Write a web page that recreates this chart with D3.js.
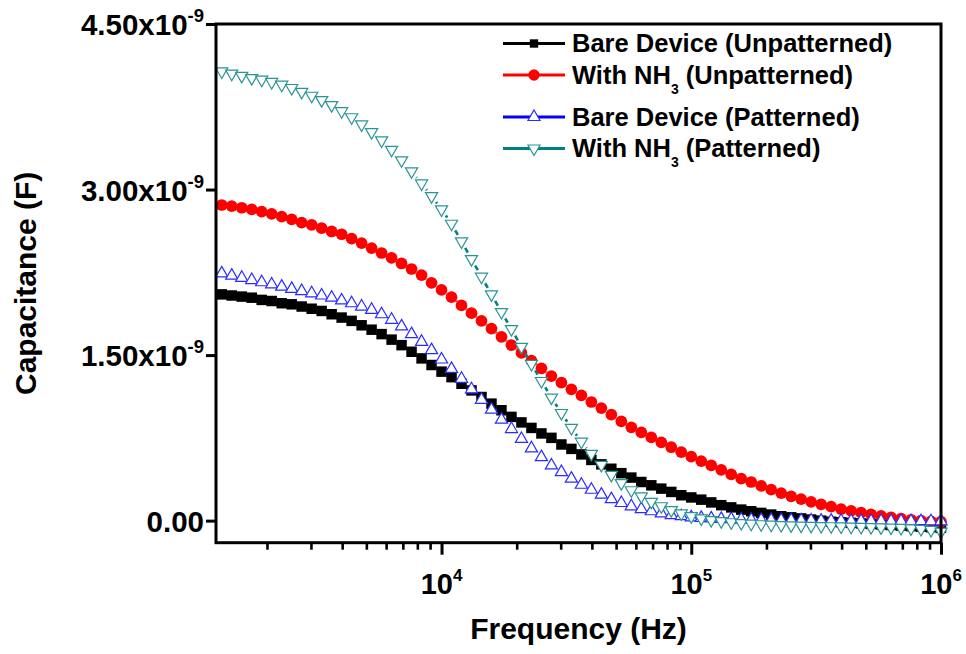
<!DOCTYPE html>
<html><head><meta charset="utf-8">
<script src="https://cdn.jsdelivr.net/npm/d3@7"></script>
<style>
body{margin:0;background:#fff}
text{font-family:"Liberation Sans",Arial,Helvetica,sans-serif;font-weight:bold;fill:#000}
</style>
</head><body>
<svg id="chart" width="966" height="654"></svg>
<script>
// ---- data (capacitance values in units of 1e-9 F) ----
const freqHz = [1318,1445,1585,1738,1905,2089,2291,2512,2754,3020,
  3311,3631,3981,4365,4786,5248,5754,6310,6918,7586,
  8318,9120,10000,10965,12023,13183,14454,15849,17378,19055,
  20893,22909,25119,27542,30200,33113,36308,39811,43652,47863,
  52481,57544,63096,69183,75858,83176,91201,100000,109648,120226,
  131826,144544,158489,173780,190546,208930,229087,251189,275423,301995,
  331131,363078,398107,436516,478630,524807,575440,630957,691831,758578,
  831764,912011,1000000];

const bareUnpatterned = [2.05,2.04,2.03,2.02,2.00,1.99,1.97,1.96,1.94,1.92,
  1.90,1.87,1.84,1.81,1.77,1.73,1.69,1.64,1.59,1.53,
  1.47,1.41,1.35,1.30,1.24,1.18,1.12,1.06,1.00,0.94,
  0.89,0.84,0.79,0.75,0.69,0.65,0.60,0.55,0.51,0.47,
  0.43,0.39,0.35,0.32,0.29,0.26,0.23,0.21,0.19,0.165,
  0.14,0.12,0.10,0.085,0.07,0.055,0.04,0.03,0.02,0.01,
  0.00,-0.01,-0.015,-0.02,-0.025,-0.03,-0.035,-0.04,-0.045,-0.05,
  -0.055,-0.06,-0.065];

const nh3Unpatterned = [2.86,2.85,2.835,2.82,2.80,2.78,2.755,2.73,2.70,2.68,
  2.65,2.62,2.595,2.555,2.515,2.47,2.425,2.38,2.33,2.28,
  2.225,2.155,2.09,2.025,1.95,1.88,1.81,1.74,1.665,1.59,
  1.52,1.45,1.38,1.31,1.25,1.19,1.135,1.075,1.02,0.96,
  0.90,0.845,0.80,0.755,0.71,0.665,0.62,0.58,0.54,0.50,
  0.46,0.42,0.38,0.35,0.315,0.28,0.25,0.22,0.195,0.17,
  0.148,0.126,0.105,0.088,0.072,0.057,0.043,0.03,0.018,0.008,
  0.0,-0.006,-0.01];

const barePatterned = [2.24,2.22,2.20,2.18,2.16,2.14,2.12,2.10,2.08,2.06,
  2.04,2.02,1.995,1.97,1.94,1.91,1.87,1.82,1.76,1.69,
  1.62,1.545,1.46,1.375,1.285,1.19,1.095,1.005,0.915,0.83,
  0.74,0.655,0.575,0.50,0.44,0.38,0.325,0.28,0.235,0.195,
  0.16,0.13,0.105,0.085,0.065,0.05,0.04,0.03,0.025,0.02,
  0.016,0.013,0.01,0.008,0.006,0.005,0.004,0.003,0.002,0.001,
  0.0,0.0,-0.001,-0.002,-0.002,-0.003,-0.003,-0.004,-0.004,-0.005,
  -0.005,-0.006,-0.006];

const nh3Patterned = [4.07,4.05,4.03,4.01,3.995,3.975,3.95,3.92,3.885,3.85,
  3.81,3.765,3.71,3.655,3.59,3.52,3.445,3.36,3.265,3.165,
  3.055,2.94,2.82,2.69,2.53,2.37,2.21,2.05,1.89,1.735,
  1.575,1.42,1.265,1.115,0.975,0.84,0.715,0.605,0.505,0.415,
  0.34,0.275,0.22,0.17,0.13,0.095,0.065,0.04,0.02,0.005,
  -0.005,-0.015,-0.022,-0.028,-0.033,-0.037,-0.04,-0.043,-0.045,-0.047,
  -0.049,-0.051,-0.053,-0.055,-0.057,-0.059,-0.061,-0.063,-0.066,-0.07,
  -0.076,-0.085,-0.10];

const seriesNames = ["Bare Device (Unpatterned)", "With NH|3| (Unpatterned)",
                     "Bare Device (Patterned)", "With NH|3| (Patterned)"];
const yTickValues = [0, 1.5, 3.0, 4.5];
const yTickMantissa = ["0.00", "1.50x10", "3.00x10", "4.50x10"];
const yTickExponent = ["", "-9", "-9", "-9"];
const xTickValues = [1e4, 1e5, 1e6];
const xTickExponent = ["4", "5", "6"];
const xTitle = "Frequency (Hz)";
const yTitle = "Capacitance (F)";

// ---- layout ----
const L = 216, R = 941, T = 24, B = 542.7;
const svg = d3.select("#chart");
svg.append("rect").attr("width", 966).attr("height", 654).attr("fill", "#fff");

const x = d3.scaleLog().domain([1250, 1e6]).range([L, R]);
const y = d3.scaleLinear().domain([-0.2, 4.5]).range([B, T]);

// minor x ticks
const minorX = x.ticks().filter(d => {
  const e = Math.log10(d); return Math.abs(e - Math.round(e)) > 1e-9;
});

const gx = svg.append("g").attr("transform", `translate(0,${B})`);
gx.call(d3.axisBottom(x).tickValues(minorX).tickSize(7).tickFormat(""))
  .call(g => g.select(".domain").remove())
  .call(g => g.selectAll("line").attr("stroke", "#000").attr("stroke-width", 2.6));
const gx2 = svg.append("g").attr("transform", `translate(0,${B})`);
gx2.call(d3.axisBottom(x).tickValues(xTickValues).tickSize(12).tickFormat(""))
  .call(g => g.select(".domain").remove())
  .call(g => g.selectAll("line").attr("stroke", "#000").attr("stroke-width", 3));

// x tick labels (10^n)
xTickValues.forEach((v, i) => {
  const t = svg.append("text").attr("x", x(v)).attr("y", 594)
    .attr("text-anchor", "middle").attr("font-size", 29);
  t.append("tspan").text("10");
  t.append("tspan").attr("font-size", 17).attr("dy", -13).text(xTickExponent[i]);
});

const gy = svg.append("g").attr("transform", `translate(${L},0)`);
gy.call(d3.axisLeft(y).tickValues(yTickValues).tickSize(10).tickFormat(""))
  .call(g => g.select(".domain").remove())
  .call(g => g.selectAll("line").attr("stroke", "#000").attr("stroke-width", 3));

yTickValues.forEach((v, i) => {
  const t = svg.append("text").attr("x", 204).attr("y", y(v) + 11)
    .attr("text-anchor", "end").attr("font-size", 29.5);
  t.append("tspan").text(yTickMantissa[i]);
  if (yTickExponent[i]) t.append("tspan").attr("font-size", 18.5).attr("dy", -13).text(yTickExponent[i]);
});

// titles
svg.append("text").attr("x", (L + R) / 2).attr("y", 639).attr("text-anchor", "middle")
  .attr("font-size", 30).text(xTitle);
svg.append("text").attr("transform", `translate(36,${(T + B) / 2}) rotate(-90)`)
  .attr("text-anchor", "middle").attr("font-size", 30).text(yTitle);

// ---- series ----
const styles = [
  {vals: bareUnpatterned, line: "#000", stroke: "#000", fill: "#000", type: d3.symbolSquare, size: 110, legSize: 70, rot: 0, gap: 6},
  {vals: nh3Unpatterned, line: "#ff0000", stroke: "#ff0000", fill: "#ff0000", type: d3.symbolCircle, size: 108, legSize: 100, rot: 0, gap: 6},
  {vals: barePatterned, line: "#0000ff", stroke: "#2b2bff", fill: "#fff", type: d3.symbolTriangle, size: 64, legSize: 64, rot: 0, gap: 7.5},
  {vals: nh3Patterned, line: "#008080", stroke: "#2a9494", fill: "#fff", type: d3.symbolTriangle, size: 64, legSize: 64, rot: 180, gap: 7.5}
];

function gappedPath(pts, gap) {
  let d = "";
  for (let i = 0; i < pts.length - 1; i++) {
    const [x1, y1] = pts[i], [x2, y2] = pts[i + 1];
    const len = Math.hypot(x2 - x1, y2 - y1);
    if (len > 2 * gap) {
      const ux = (x2 - x1) / len, uy = (y2 - y1) / len;
      d += `M${x1 + ux * gap},${y1 + uy * gap}L${x2 - ux * gap},${y2 - uy * gap}`;
    }
  }
  return d;
}

const plot = svg.append("g");
styles.forEach(s => {
  const pts = freqHz.map((f, i) => [x(f), y(s.vals[i])]);
  const g = plot.append("g");
  g.append("path").attr("d", gappedPath(pts, s.gap)).attr("fill", "none")
    .attr("stroke", s.line).attr("stroke-width", 2.6);
  g.selectAll("path.m").data(pts).join("path").attr("class", "m")
    .attr("d", d3.symbol().type(s.type).size(s.size))
    .attr("transform", d => `translate(${d[0]},${d[1]}) rotate(${s.rot})`)
    .attr("fill", s.fill).attr("stroke", s.stroke)
    .attr("stroke-width", s.fill === "#fff" ? 1.2 : 0);
});

// frame
svg.append("rect").attr("x", L).attr("y", T).attr("width", R - L).attr("height", B - T)
  .attr("fill", "none").attr("stroke", "#000").attr("stroke-width", 3);

// ---- legend ----
const legRows = [43.5, 75, 117, 148.5];
const leg = svg.append("g");
styles.forEach((s, i) => {
  const ly = legRows[i];
  leg.append("line").attr("x1", 503).attr("x2", 565).attr("y1", ly).attr("y2", ly)
    .attr("stroke", s.line).attr("stroke-width", 3);
  leg.append("path").attr("d", d3.symbol().type(s.type).size(s.legSize))
    .attr("transform", `translate(534,${ly}) rotate(${s.rot})`)
    .attr("fill", s.fill).attr("stroke", s.stroke).attr("stroke-width", s.fill === "#fff" ? 1.2 : 0);
  const parts = seriesNames[i].split("|");
  const t = leg.append("text").attr("x", 572).attr("y", ly + 8.6).attr("font-size", 25.5);
  t.append("tspan").text(parts[0]);
  if (parts.length > 1) {
    t.append("tspan").attr("font-size", 14).attr("dy", 10).text(parts[1]);
    t.append("tspan").attr("dy", -10).text(parts[2]);
  }
});
</script>
</body></html>
